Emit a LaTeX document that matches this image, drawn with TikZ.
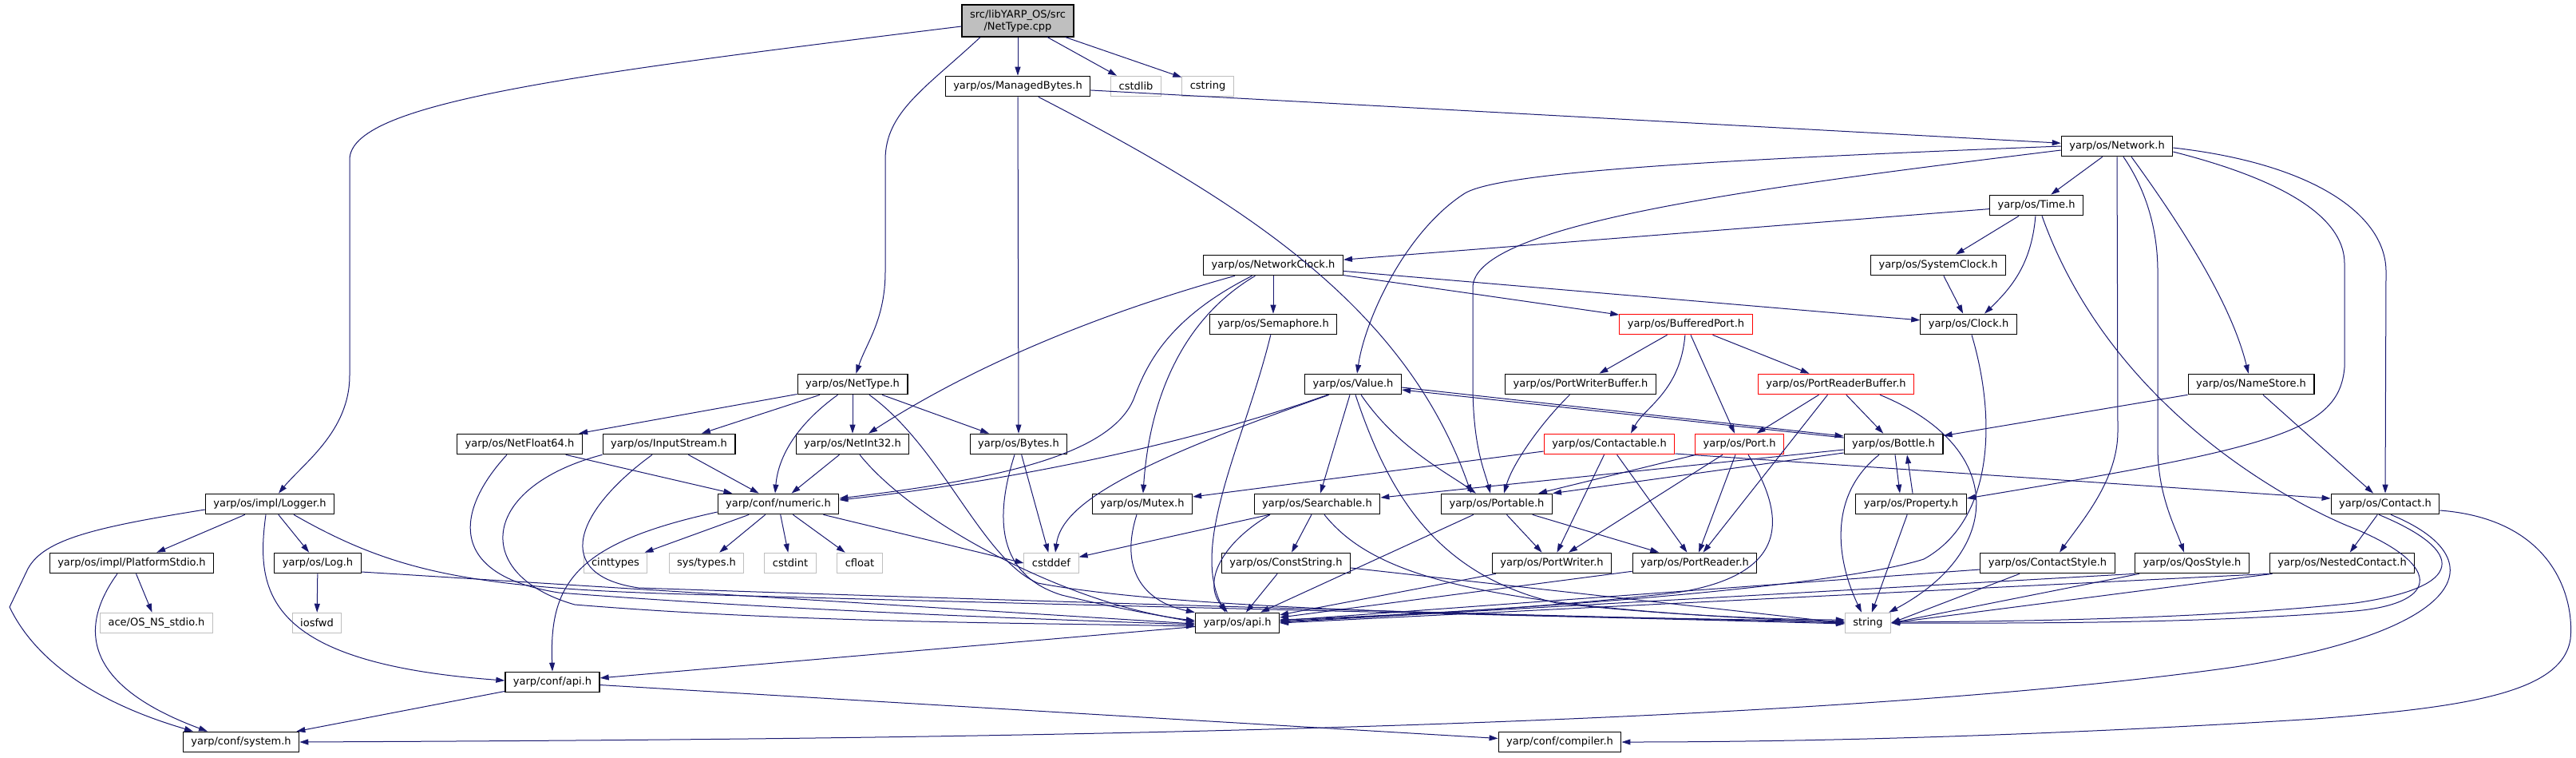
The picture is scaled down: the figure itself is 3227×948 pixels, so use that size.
\documentclass[tikz,border=0pt]{standalone}
\usepackage{fontspec}
\setmainfont{DejaVu Sans}
\usetikzlibrary{arrows.meta}
\definecolor{edgeblue}{RGB}{25,25,112}
\definecolor{sysgray}{RGB}{191,191,191}

\begin{document}
\begin{tikzpicture}[
    x=1pt, y=-1pt,
    header/.style={rectangle, draw=black, line width=1.2pt, minimum height=25.5pt, inner xsep=10pt, inner ysep=0pt, font=\fontsize{13}{15}\selectfont},
    stdhdr/.style={header, draw=sysgray, line width=1pt},
    cuthdr/.style={header, draw=red},
    arrow/.style={->, >={Triangle[length=11pt,width=7pt]}, edgeblue, line width=1pt}
]
    \useasboundingbox (0,0) rectangle (3227,948);

    % Root file
    \node[header, fill=sysgray, minimum height=40pt, align=center] (cpp) at (1275,26) {src/libYARP\_OS/src\\/NetType.cpp};

    % Row 1
    \node[header] (managed) at (1275,108) {yarp/os/ManagedBytes.h};
    \node[stdhdr] (cstdlib) at (1423,108) {cstdlib};
    \node[stdhdr] (cstring) at (1513,108) {cstring};
    \node[header] (network) at (2652,183) {yarp/os/Network.h};
    \node[header] (time) at (2551,257) {yarp/os/Time.h};
    \node[header] (netclock) at (1595,332) {yarp/os/NetworkClock.h};
    \node[header] (sysclock) at (2428,332) {yarp/os/SystemClock.h};
    \node[header] (clock) at (2466,406) {yarp/os/Clock.h};
    \node[header] (semaphore) at (1595,406) {yarp/os/Semaphore.h};
    \node[cuthdr] (buffport) at (2112,406) {yarp/os/BufferedPort.h};

    % Row 2
    \node[header] (nettype) at (1068,481) {yarp/os/NetType.h};
    \node[header] (value) at (1695,481) {yarp/os/Value.h};
    \node[header] (pwbuffer) at (1980,481) {yarp/os/PortWriterBuffer.h};
    \node[cuthdr] (prbuffer) at (2300,481) {yarp/os/PortReaderBuffer.h};
    \node[header] (namestore) at (2820,481) {yarp/os/NameStore.h};

    % Row 3
    \node[header] (netfloat) at (651,556) {yarp/os/NetFloat64.h};
    \node[header] (inputstream) at (838,556) {yarp/os/InputStream.h};
    \node[header] (netint) at (1068,556) {yarp/os/NetInt32.h};
    \node[header] (bytes) at (1276,556) {yarp/os/Bytes.h};
    \node[cuthdr] (contactable) at (2016,556) {yarp/os/Contactable.h};
    \node[cuthdr] (port) at (2179,556) {yarp/os/Port.h};
    \node[header] (bottle) at (2372,556) {yarp/os/Bottle.h};

    % Row 4
    \node[header] (logger) at (338,631) {yarp/os/impl/Logger.h};
    \node[header] (numeric) at (975,631) {yarp/conf/numeric.h};
    \node[header] (mutex) at (1431,631) {yarp/os/Mutex.h};
    \node[header] (searchable) at (1650,631) {yarp/os/Searchable.h};
    \node[header] (portable) at (1875,631) {yarp/os/Portable.h};
    \node[header] (property) at (2394,631) {yarp/os/Property.h};
    \node[header] (contact) at (2988,631) {yarp/os/Contact.h};

    % Row 5
    \node[header] (platstdio) at (165,705) {yarp/os/impl/PlatformStdio.h};
    \node[header] (log) at (398,705) {yarp/os/Log.h};
    \node[stdhdr] (cinttypes) at (771,705) {cinttypes};
    \node[stdhdr] (systypes) at (885,705) {sys/types.h};
    \node[stdhdr] (cstdint) at (990,705) {cstdint};
    \node[stdhdr] (cfloat) at (1077,705) {cfloat};
    \node[stdhdr] (cstddef) at (1317,705) {cstddef};
    \node[header] (conststring) at (1611,705) {yarp/os/ConstString.h};
    \node[header] (portwriter) at (1944,705) {yarp/os/PortWriter.h};
    \node[header] (portreader) at (2123,705) {yarp/os/PortReader.h};
    \node[header] (contactstyle) at (2565,705) {yarp/os/ContactStyle.h};
    \node[header] (qosstyle) at (2746,705) {yarp/os/QosStyle.h};
    \node[header] (nestedcontact) at (2934,705) {yarp/os/NestedContact.h};

    % Bottom rows
    \node[stdhdr] (acestdio) at (196,780) {ace/OS\_NS\_stdio.h};
    \node[stdhdr] (iosfwd) at (397,780) {iosfwd};
    \node[header] (osapi) at (1550,780) {yarp/os/api.h};
    \node[stdhdr] (string) at (2340,780) {string};
    \node[header] (confapi) at (692,854) {yarp/conf/api.h};
    \node[header] (system) at (302,929) {yarp/conf/system.h};
    \node[header] (compiler) at (1954,929) {yarp/conf/compiler.h};

    % Includes of the root file
    \draw[arrow] ([yshift=-7pt]cpp.west) .. controls (700,95) and (438,130) .. (438,200) -- (438,470) .. controls (438,540) and (380,580) .. (logger);
    \draw[arrow] ([xshift=-47pt]cpp.south) .. controls (1160,110) and (1109,140) .. (1109,200) -- (1109,340) .. controls (1109,400) and (1085,430) .. (nettype);
    \draw[arrow] (cpp) -- (managed);
    \draw[arrow] (cpp) -- (cstdlib);
    \draw[arrow] (cpp) -- (cstring);

    % ManagedBytes.h
    \draw[arrow] (managed) -- (network);
    \draw[arrow] (managed) .. controls (1550,250) and (1760,380) .. ([xshift=-32pt]portable.north);
    \draw[arrow] (managed) -- (bytes);

    % Network.h
    \draw[arrow] (network) -- (time);
    \draw[arrow] (network.west) .. controls (2150,200) and (1880,215) .. (1835,242) .. controls (1760,290) and (1710,400) .. ([xshift=5pt]value.north);
    \draw[arrow] ([yshift=-5pt]network.west) .. controls (2200,235) and (1845,280) .. (1845,360) -- (1845,480) .. controls (1845,560) and (1860,590) .. ([xshift=-8pt]portable.north);
    \draw[arrow] (network.south) -- (2653,540) .. controls (2653,600) and (2610,650) .. ([xshift=15pt]contactstyle.north);
    \draw[arrow] ([xshift=8pt]network.south) .. controls (2690,240) and (2703,290) .. (2703,340) -- (2703,560) .. controls (2703,620) and (2725,660) .. ([xshift=-10pt]qosstyle.north);
    \draw[arrow] ([xshift=18pt]network.south) .. controls (2760,320) and (2800,400) .. (namestore);
    \draw[arrow] ([yshift=-7pt]network.east) .. controls (2880,230) and (2937,280) .. (2937,330) -- (2937,460) .. controls (2930,540) and (2850,560) .. ([yshift=7pt]property.east);
    \draw[arrow] ([yshift=-2pt]network.east) .. controls (2900,205) and (2989,270) .. (2989,340) -- (contact.north);

    % Time.h and clocks
    \draw[arrow] (time) -- (netclock);
    \draw[arrow] (time) -- (sysclock);
    \draw[arrow] (time) .. controls (2545,330) and (2520,360) .. ([xshift=20pt]clock.north);
    \draw[arrow] ([xshift=7pt]time.south) .. controls (2640,500) and (2850,620) .. (2940,658) .. controls (3060,705) and (3060,755) .. (2950,765) .. controls (2750,782) and (2500,780) .. (string.east);
    \draw[arrow] (sysclock) -- (clock);
    \draw[arrow] (clock) .. controls (2500,520) and (2500,650) .. (2410,700) .. controls (2300,735) and (1900,765) .. ([yshift=4pt]osapi.east);

    % NetworkClock.h
    \draw[arrow] (netclock) .. controls (1350,400) and (1200,470) .. ([xshift=20pt]netint.north);
    \draw[arrow] (netclock) .. controls (1460,400) and (1435,460) .. (1420,500) .. controls (1390,570) and (1250,600) .. ([yshift=7pt]numeric.east);
    \draw[arrow] (netclock) .. controls (1480,400) and (1440,500) .. (mutex);
    \draw[arrow] (netclock) -- (semaphore);
    \draw[arrow] (netclock) -- (buffport);
    \draw[arrow] (netclock) -- (clock);
    \draw[arrow] (semaphore) .. controls (1560,550) and (1490,680) .. ([xshift=-15pt]osapi.north);

    % BufferedPort.h and buffers
    \draw[arrow] (buffport) -- (pwbuffer);
    \draw[arrow] (buffport) -- (prbuffer);
    \draw[arrow] (buffport) -- (port);
    \draw[arrow] (buffport) .. controls (2105,490) and (2060,510) .. ([xshift=27pt]contactable.north);
    \draw[arrow] (pwbuffer) .. controls (1930,530) and (1895,580) .. ([xshift=9pt]portable.north);
    \draw[arrow] (prbuffer) -- (port);
    \draw[arrow] (prbuffer) -- (bottle);
    \draw[arrow] (prbuffer) -- (portreader);
    \draw[arrow] ([xshift=55pt]prbuffer.south) .. controls (2515,560) and (2510,690) .. ([xshift=-3pt]string.north east);
    \draw[arrow] (namestore) -- (bottle);
    \draw[arrow] (namestore) -- (contact);

    % NetType.h
    \draw[arrow] (nettype) -- (netfloat);
    \draw[arrow] (nettype) -- (inputstream);
    \draw[arrow] (nettype) -- (netint);
    \draw[arrow] (nettype) -- (bytes);
    \draw[arrow] (nettype) .. controls (1000,530) and (975,570) .. ([xshift=-4pt]numeric.north);
    \draw[arrow] ([xshift=21pt]nettype.south) .. controls (1180,560) and (1230,700) .. (1300,730) .. controls (1500,768) and (2000,772) .. ([yshift=2pt]string.west);
    \draw[arrow] (netfloat) -- (numeric);
    \draw[arrow] ([xshift=-16pt]netfloat.south) .. controls (570,640) and (560,720) .. (700,742) .. controls (1000,765) and (1300,775) .. ([yshift=-2pt]osapi.west);
    \draw[arrow] (inputstream) -- (numeric);
    \draw[arrow] (inputstream.south west) .. controls (600,610) and (590,720) .. (720,757) .. controls (1000,780) and (1300,780) .. ([yshift=-4pt]osapi.west);
    \draw[arrow] ([xshift=-21pt]inputstream.south) .. controls (720,640) and (690,720) .. (800,736) .. controls (1500,760) and (2000,772) .. (string.west);
    \draw[arrow] (netint) -- (numeric);
    \draw[arrow] ([xshift=9pt]netint.south) .. controls (1150,660) and (1350,760) .. ([yshift=3pt]osapi.west);
    \draw[arrow] (bytes) -- (cstddef);
    \draw[arrow] ([xshift=-5pt]bytes.south) .. controls (1245,650) and (1250,720) .. (1330,745) .. controls (1400,762) and (1450,770) .. ([yshift=1pt]osapi.west);

    % Value.h and Bottle.h
    \draw[arrow] ([xshift=-32pt]value.south) .. controls (1450,570) and (1200,610) .. ([yshift=5pt]numeric.east);
    \draw[arrow] ([xshift=-30pt]value.south) .. controls (1420,580) and (1330,630) .. ([xshift=5pt]cstddef.north);
    \draw[arrow] (value) -- (searchable);
    \draw[arrow] ([xshift=10pt]value.south) .. controls (1750,560) and (1810,590) .. ([xshift=-26pt]portable.north);
    \draw[arrow] ([xshift=3pt]value.south) .. controls (1740,620) and (1800,720) .. (1950,755) .. controls (2100,772) and (2250,776) .. ([yshift=4pt]string.west);
    \draw[arrow] ([yshift=-4pt]value.east) -- ([yshift=10pt]bottle.west);
    \draw[arrow] ([yshift=8pt]bottle.west) -- ([yshift=-7pt]value.east);
    \draw[arrow] ([yshift=-7pt]bottle.west) -- ([yshift=8pt]searchable.east);
    \draw[arrow] ([yshift=-11pt]bottle.west) -- (portable.north east);
    \draw[arrow] ([xshift=2pt]bottle.south) -- ([xshift=-14pt]property.north);
    \draw[arrow] ([xshift=2pt]property.north) -- ([xshift=17pt]bottle.south);
    \draw[arrow] ([xshift=-18pt]bottle.south) .. controls (2290,620) and (2300,700) .. ([xshift=-8pt]string.north);
    \draw[arrow] (property) -- (string);

    % Searchable.h, ConstString.h, Mutex.h
    \draw[arrow] (searchable) -- (cstddef);
    \draw[arrow] (searchable) -- (conststring);
    \draw[arrow] ([xshift=-59pt]searchable.south) .. controls (1530,680) and (1505,730) .. ([xshift=-12pt]osapi.north);
    \draw[arrow] ([xshift=9pt]searchable.south) .. controls (1720,720) and (1850,762) .. ([yshift=1pt]string.west);
    \draw[arrow] (conststring) -- (osapi);
    \draw[arrow] ([yshift=-6pt]conststring.east) -- (string.west);
    \draw[arrow] ([xshift=-7pt]mutex.south) .. controls (1400,720) and (1440,755) .. (osapi.north west);

    % Contactable.h and Port.h
    \draw[arrow] ([yshift=-9pt]contactable.west) -- ([yshift=9pt]mutex.east);
    \draw[arrow] (contactable) -- (portwriter);
    \draw[arrow] (contactable) -- (portreader);
    \draw[arrow] ([yshift=-12pt]contactable.east) -- ([yshift=7pt]contact.west);
    \draw[arrow] (port) -- ([xshift=52pt]portable.north);
    \draw[arrow] (port) -- (portwriter);
    \draw[arrow] (port) -- (portreader);
    \draw[arrow] ([xshift=11pt]port.south) .. controls (2240,650) and (2240,720) .. (2100,742) .. controls (1900,765) and (1700,772) .. ([yshift=2pt]osapi.east);

    % Portable.h, PortWriter.h, PortReader.h
    \draw[arrow] (portable) -- (osapi);
    \draw[arrow] (portable) -- (portwriter);
    \draw[arrow] (portable) -- (portreader);
    \draw[arrow] (portwriter) -- (osapi);
    \draw[arrow] (portreader) -- (osapi);

    % Contact.h and styles
    \draw[arrow] (contact) -- (nestedcontact);
    \draw[arrow] ([xshift=-8pt]contact.south) .. controls (3090,690) and (3090,735) .. (2950,755) .. controls (2750,776) and (2500,778) .. ([yshift=1pt]string.east);
    \draw[arrow] ([xshift=7pt]contact.south) .. controls (3130,700) and (3090,790) .. (2800,835) .. controls (2200,920) and (1000,926) .. (system.east);
    \draw[arrow] ([yshift=-8pt]contact.east) .. controls (3200,650) and (3225,750) .. (3220,800) .. controls (3210,865) and (3100,885) .. (2900,900) .. controls (2500,925) and (2200,929) .. (compiler.east);
    \draw[arrow] ([yshift=-8pt]contactstyle.west) -- ([yshift=3pt]osapi.east);
    \draw[arrow] ([xshift=-35pt]contactstyle.south) -- (string.east);
    \draw[arrow] (qosstyle.south west) -- ([yshift=1pt]osapi.east);
    \draw[arrow] ([xshift=6pt]qosstyle.south west) -- (string.east);
    \draw[arrow] (nestedcontact.south west) -- (osapi.east);
    \draw[arrow] ([xshift=4pt]nestedcontact.south west) -- (string.east);

    % Logger.h
    \draw[arrow] (logger) -- (platstdio);
    \draw[arrow] (logger) -- (log);
    \draw[arrow] ([xshift=-5pt]logger.south) .. controls (320,740) and (330,830) .. ([yshift=2pt]confapi.west);
    \draw[arrow] ([yshift=-7pt]logger.west) .. controls (120,660) and (55,675) .. (35,712) -- (12,760) .. controls (60,860) and (190,900) .. ([xshift=-60pt]system.north);
    \draw[arrow] ([xshift=30pt]logger.south) .. controls (500,720) and (600,738) .. (900,745) .. controls (1500,762) and (2000,772) .. ([yshift=-1pt]string.west);
    \draw[arrow] (platstdio) -- (acestdio);
    \draw[arrow] ([xshift=-18pt]platstdio.south) .. controls (95,790) and (110,860) .. ([xshift=-42pt]system.north);
    \draw[arrow] (log) -- (iosfwd);
    \draw[arrow] ([yshift=-11pt]log.east) -- ([yshift=-1pt]osapi.west);

    % numeric.h and conf headers
    \draw[arrow] (numeric) -- (cinttypes);
    \draw[arrow] (numeric) -- (systypes);
    \draw[arrow] (numeric) -- (cstdint);
    \draw[arrow] (numeric) -- (cfloat);
    \draw[arrow] ([xshift=-20pt]numeric.south east) -- (cstddef.west);
    \draw[arrow] ([yshift=-10pt]numeric.west) .. controls (720,680) and (688,730) .. (confapi.north);
    \draw[arrow] (osapi) -- (confapi);
    \draw[arrow] (confapi) -- (system);
    \draw[arrow] (confapi) -- (compiler);

\end{tikzpicture}
\end{document}
